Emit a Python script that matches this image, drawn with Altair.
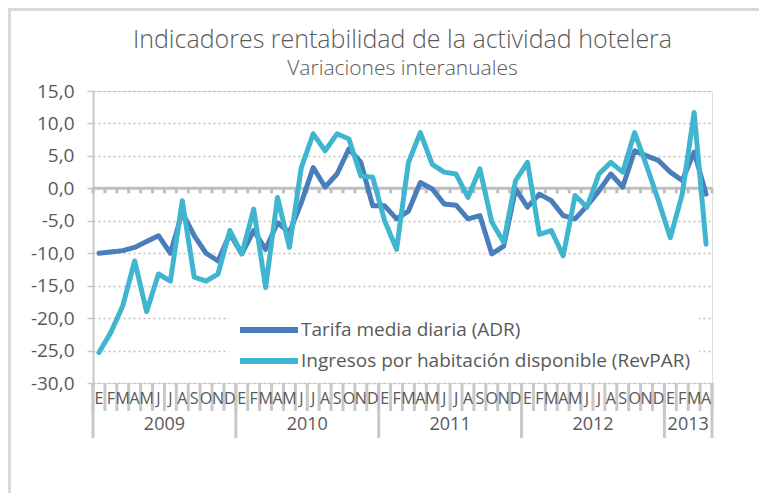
import altair as alt
import pandas as pd

# ---------------- data ----------------
month_letters = ["E", "F", "M", "A", "M", "J", "J", "A", "S", "O", "N", "D"]
years = [2009, 2010, 2011, 2012, 2013]
months_per_year = [12, 12, 12, 12, 4]

series_names = ["Tarifa media diaria (ADR)",
                "Ingresos por habitación disponible (RevPAR)"]

adr = [
    -10.0, -9.8, -9.6, -9.1, -8.2, -7.3, -10.0, -3.7, -7.3, -10.0, -11.2, -7.0,   # 2009
    -10.1, -6.5, -9.4, -5.3, -6.8, -2.2, 3.2, 0.2, 2.2, 6.1, 4.0, -2.7,          # 2010
    -2.7, -4.7, -3.5, 0.9, -0.1, -2.4, -2.6, -4.7, -4.2, -10.1, -8.9, -0.1,      # 2011
    -2.9, -0.9, -1.9, -4.2, -4.7, -2.7, -0.4, 2.2, 0.2, 5.8, 5.0, 4.3,           # 2012
    2.5, 1.2, 5.6, -0.9,                                                          # 2013
]
revpar = [
    -25.3, -22.2, -18.1, -11.2, -19.0, -13.2, -14.3, -1.9, -13.7, -14.3, -13.2, -6.5,  # 2009
    -10.1, -3.2, -15.3, -1.4, -9.1, 3.2, 8.4, 5.8, 8.4, 7.6, 1.9, 1.7,                # 2010
    -5.0, -9.4, 4.0, 8.6, 3.7, 2.5, 2.2, -1.4, 3.0, -5.2, -8.3, 1.2,                  # 2011
    4.0, -7.1, -6.5, -10.4, -1.1, -2.9, 2.2, 4.0, 2.5, 8.6, 3.5, -1.9,                # 2012
    -7.6, -0.9, 11.7, -8.6,                                                            # 2013
]

colors = ["#4a7ebb", "#40b5d0"]
text_color = "#595959"
sep_color = "#c8c8c8"
FONT = "Open Sans"

# ---------------- tables ----------------
rows = []
idx = 0
for y, n in zip(years, months_per_year):
    for m in range(n):
        rows.append({"idx": idx, "pos": idx + 0.5, "letter": month_letters[m], "year": str(y)})
        idx += 1
months_df = pd.DataFrame(rows)
n_months = len(months_df)

lines_df = pd.concat([
    months_df.assign(series=series_names[0], value=adr, s_order=0),
    months_df.assign(series=series_names[1], value=revpar, s_order=1),
])

bounds_df = pd.DataFrame({"b": list(range(n_months + 1))})
year_starts = months_df.groupby("year")["idx"].min().tolist() + [n_months]
year_bounds_df = pd.DataFrame({"b": year_starts})

W, H = 619, 292

x_scale = alt.Scale(domain=[0, n_months], nice=False, zero=False)
y_scale = alt.Scale(domain=[-30, 15], nice=False, zero=False)

y_axis = alt.Axis(
    values=list(range(-30, 16, 5)),
    labelExpr="replace((datum.value < 0 ? '-' : '') + format(abs(datum.value), '.1f'), '.', ',')",
    grid=True, gridDash=[2, 3], gridColor="#bfbfbf", gridWidth=1.5,
    domainColor="#c8c8c8", domainWidth=2,
    tickColor="#c8c8c8", tickSize=6, tickWidth=1.5,
    labelFont=FONT, labelFontSize=19, labelColor=text_color, labelPadding=13,
    title=None,
)

X = lambda f: alt.X(f, scale=x_scale, axis=None)

# zero line
zero_line = alt.Chart(months_df).mark_rule(color="#bfbfbf", strokeWidth=3).encode(
    y=alt.datum(0, scale=y_scale, axis=y_axis)
).transform_filter("datum.idx == 0")

# ticks below zero line
zero_ticks = alt.Chart(bounds_df).mark_rule(color="#bfbfbf", strokeWidth=3, y2Offset=5).encode(
    x=X("b:Q"),
    y=alt.datum(0, scale=y_scale, axis=y_axis),
    y2=alt.datum(0),
)

# month separators under the plot
month_seps = alt.Chart(bounds_df).mark_rule(color=sep_color, strokeWidth=3).encode(
    x=X("b:Q"),
    y=alt.value(H),
    y2=alt.value(H + 28),
)
year_seps = alt.Chart(year_bounds_df).mark_rule(color=sep_color, strokeWidth=3).encode(
    x=X("b:Q"),
    y=alt.value(H),
    y2=alt.value(H + 55),
)

month_labels = alt.Chart(months_df).mark_text(
    font=FONT, fontSize=16, color=text_color, align="center", baseline="middle"
).encode(
    x=X("pos:Q"),
    y=alt.value(H + 16),
    text="letter:N",
)

year_labels = alt.Chart(months_df).transform_aggregate(
    center="mean(pos)", groupby=["year"]
).mark_text(
    font=FONT, fontSize=18, color=text_color, align="center", baseline="middle"
).encode(
    x=X("center:Q"),
    y=alt.value(H + 42),
    text="year:N",
)

lines = alt.Chart(lines_df).mark_line(
    strokeWidth=5, strokeCap="round", strokeJoin="round"
).encode(
    x=X("pos:Q"),
    y=alt.Y("value:Q", scale=y_scale, axis=y_axis),
    color=alt.Color(
        "series:N",
        scale=alt.Scale(domain=series_names, range=colors),
        sort=series_names,
        legend=alt.Legend(
            title=None, orient="none", legendX=136, legendY=220,
            fillColor="white", padding=8,
            symbolType="stroke", symbolSize=3364, symbolStrokeWidth=6,
            clipHeight=22, rowPadding=9,
            labelFont=FONT, labelFontSize=19, labelColor=text_color,
            labelOffset=0, labelLimit=600,
        ),
    ),
    order="s_order:Q",
    detail="series:N",
)

# gray frame bands (left / top edge of the original picture)
frame_left = alt.Chart(months_df).transform_filter("datum.idx == 0").mark_rect(color="#d9d9d9").encode(
    x=alt.value(-85), x2=alt.value(-82), y=alt.value(-83), y2=alt.value(H + 120)
)
frame_top = alt.Chart(months_df).transform_filter("datum.idx == 0").mark_rect(color="#d9d9d9").encode(
    x=alt.value(-85), x2=alt.value(W + 47), y=alt.value(-83), y2=alt.value(-80)
)

chart = alt.layer(
    frame_left, frame_top, zero_line, zero_ticks, month_seps, year_seps,
    month_labels, year_labels, lines
).properties(
    width=W, height=H,
    autosize=alt.AutoSizeParams(type="none"),
    padding={"left": 85, "top": 83, "right": 47, "bottom": 110},
    title=alt.TitleParams(
        text="Indicadores rentabilidad de la actividad hotelera",
        subtitle="Variaciones interanuales",
        font=FONT, fontSize=25, fontWeight=300, color=text_color,
        subtitleFont=FONT, subtitleFontSize=21, subtitleFontWeight=300,
        subtitleColor=text_color,
        anchor="middle", offset=-71, subtitlePadding=5,
    ),
).configure_view(
    stroke="#d0d0d0", strokeWidth=1.5
).configure(background="white")

chart.save("out.html", embed_options={"renderer": "svg", "actions": False})
